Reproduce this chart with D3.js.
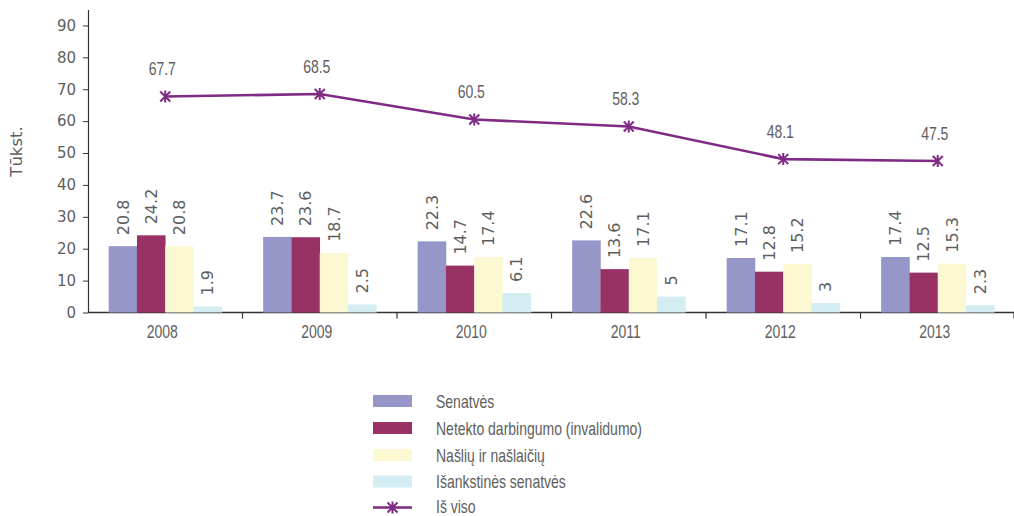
<!DOCTYPE html>
<html><head><meta charset="utf-8">
<script src="https://cdn.jsdelivr.net/npm/d3@7/dist/d3.min.js"></script>
<style>body{margin:0;background:#fff}svg{display:block}</style>
</head><body>
<svg id="c" width="1014" height="516"></svg>
<script>
const years = ["2008","2009","2010","2011","2012","2013"];
const seriesNames = ["Senatvės","Netekto darbingumo (invalidumo)","Našlių ir našlaičių","Išankstinės senatvės"];
const senatves = [20.8,23.7,22.3,22.6,17.1,17.4];
const netekto = [24.2,23.6,14.7,13.6,12.8,12.5];
const naslių = [20.8,18.7,17.4,17.1,15.2,15.3];
const isankstines = [1.9,2.5,6.1,5,3,2.3];
const isViso = [67.7,68.5,60.5,58.3,48.1,47.5];
const lineName = "Iš viso";
const yTicks = [0,10,20,30,40,50,60,70,80,90];
const yTitle = "Tūkst.";
const colors = ["#9696c8","#993264","#fcf9d2","#d4edf3"];
const lineColor = "#7f2a84";

const seriesValues = [senatves, netekto, naslių, isankstines];
const svg = d3.select("#c");
const grayText = "#5e5e5e";

const x0 = d3.scaleBand().domain(years).range([88,1015]).paddingInner(0).paddingOuter(0);
const x1 = d3.scaleBand().domain(d3.range(4)).range([0,x0.bandwidth()]).paddingInner(0).paddingOuter(0.73);
const y = d3.scaleLinear().domain([0,95]).range([312.5,9.5]);

// y axis
const yAxis = d3.axisLeft(y).tickValues(yTicks).tickSize(5).tickSizeOuter(0).tickPadding(7);
const gy = svg.append("g").attr("transform","translate(88,0)").call(yAxis);
gy.select(".domain").attr("stroke","#333").attr("stroke-width",1.2);
gy.selectAll(".tick line").attr("stroke","#333");
gy.selectAll(".tick text").attr("fill",grayText).style("font-family","DejaVu Sans").style("font-size","15px");

// y title
svg.append("text").attr("transform","translate(22,151.5) rotate(-90)")
  .attr("text-anchor","middle").attr("fill",grayText)
  .style("font-family","DejaVu Sans").style("font-size","16.5px").text(yTitle);

// x axis line and ticks
const xAxisG = svg.append("g");
xAxisG.append("line").attr("x1",88).attr("x2",1015).attr("y1",y(0)).attr("y2",y(0)).attr("stroke","#333").attr("stroke-width",1.5);
const bounds = years.map(d=>x0(d)).concat([x0(years[years.length-1])+x0.bandwidth()-1]).slice(1);
xAxisG.selectAll("line.tk").data(bounds).join("line").attr("class","tk")
  .attr("x1",d=>d).attr("x2",d=>d).attr("y1",y(0)).attr("y2",y(0)+6).attr("stroke","#333").attr("stroke-width",1.2);

function condText(g, x, yy, txt, anchor){
  return g.append("text").attr("transform",`translate(${x},${yy}) scale(0.8,1)`)
    .attr("text-anchor",anchor||"middle").attr("fill",grayText)
    .style("font-family","Liberation Sans").style("font-size","17.5px").text(txt);
}
years.forEach(yr=>condText(svg, x0(yr)+x0.bandwidth()/2-3, 337.5, yr));

// bars
const groups = svg.append("g").selectAll("g").data(years).join("g")
  .attr("transform",d=>`translate(${x0(d)},0)`);
groups.each(function(yr,i){
  const g = d3.select(this);
  seriesValues.forEach((vals,s)=>{
    const v = vals[i];
    g.append("rect").attr("x",x1(s)).attr("width",x1.bandwidth()+0.3)
      .attr("y",y(v)).attr("height",y(0)-y(v)).attr("fill",colors[s]);
    g.append("text").attr("transform",`translate(${x1(s)+x1.bandwidth()/2},${y(v)-11}) rotate(-90)`)
      .attr("dy","0.36em").attr("text-anchor","start").attr("fill",grayText)
      .style("font-family","DejaVu Sans").style("font-size","16px").text(String(v));
  });
});

// line
const cx = yr => x0(yr)+x0.bandwidth()/2;
const lineGen = d3.line().x((d,i)=>cx(years[i])).y(d=>y(d));
svg.append("path").datum(isViso).attr("d",lineGen).attr("fill","none")
  .attr("stroke",lineColor).attr("stroke-width",2.6);
const star = "M-5,-5L5,5M-5,5L5,-5M0,-6L0,6";
svg.append("g").selectAll("path").data(isViso).join("path")
  .attr("transform",(d,i)=>`translate(${cx(years[i])},${y(d)})`)
  .attr("d",star).attr("stroke",lineColor).attr("stroke-width",2).attr("fill","none");
isViso.forEach((v,i)=>condText(svg, cx(years[i])-3, y(v)-21.5, String(v)));

// legend
const leg = svg.append("g");
const rowY = [401,428,455,481.5,507.5];
seriesNames.forEach((n,s)=>{
  leg.append("rect").attr("x",373).attr("y",rowY[s]-6).attr("width",39).attr("height",12).attr("fill",colors[s]);
  condText(leg, 436, rowY[s]+6.5, n, "start");
});
leg.append("line").attr("x1",373).attr("x2",412).attr("y1",rowY[4]).attr("y2",rowY[4]).attr("stroke",lineColor).attr("stroke-width",2.6);
leg.append("path").attr("transform",`translate(392.5,${rowY[4]})`).attr("d",star).attr("stroke",lineColor).attr("stroke-width",2).attr("fill","none");
condText(leg, 436, rowY[4]+5.5, lineName, "start");
</script>
</body></html>
